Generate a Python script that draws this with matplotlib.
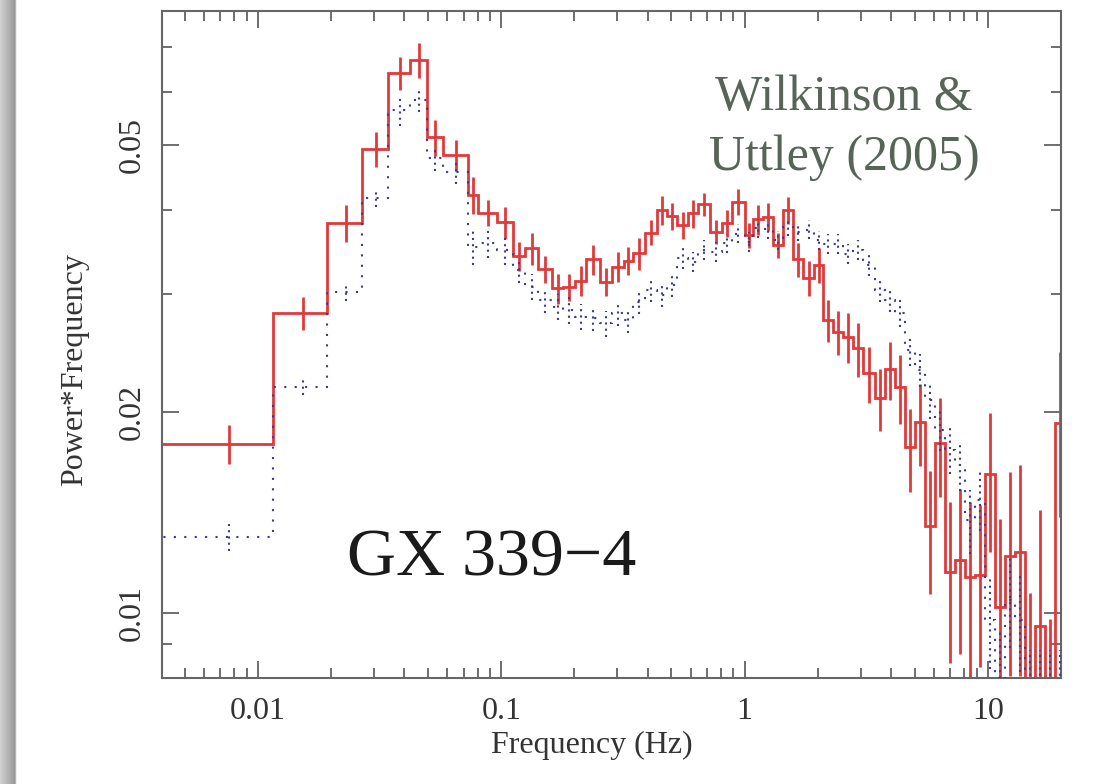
import numpy as np
import matplotlib
matplotlib.use('Agg')
import matplotlib.pyplot as plt
from matplotlib.ticker import LogLocator, NullFormatter

plt.rcParams['font.family'] = ['Liberation Serif', 'DejaVu Serif']

# frequency bin edges (Hz), shared by both power spectra
bin_edges = [0.003712, 0.01149, 0.01922, 0.02669, 0.03431, 0.04215, 0.04938, 0.05744,
             0.07319, 0.08024, 0.09574, 0.1114, 0.1252, 0.1419, 0.1611, 0.1798,
             0.2009, 0.2229, 0.2544, 0.2843, 0.3193, 0.3468, 0.3896, 0.4352,
             0.4785, 0.5258, 0.5870, 0.6451, 0.7210, 0.8052, 0.8850, 1.004,
             1.086, 1.193, 1.312, 1.443, 1.586, 1.743, 1.929, 2.106,
             2.315, 2.545, 2.798, 3.075, 3.436, 3.777, 4.152, 4.564,
             5.017, 5.513, 6.062, 6.663, 7.324, 8.051, 8.851, 9.727,
             10.70, 11.76, 12.93, 14.21, 15.62, 17.17, 18.87, 20.94]

# power*frequency, solid red spectrum
red_pow = [0.01788, 0.02806, 0.03828, 0.04933, 0.06412, 0.06699, 0.05135, 0.04831, 0.04211, 0.03963,
           0.03835, 0.03412, 0.03504, 0.03261, 0.03055, 0.03065, 0.03135, 0.03374, 0.03124, 0.03291,
           0.03358, 0.03445, 0.03702, 0.03999, 0.03917, 0.03798, 0.03954, 0.04082, 0.03710, 0.03821,
           0.04114, 0.03669, 0.03873, 0.03908, 0.03545, 0.03999, 0.03374, 0.03161, 0.03310, 0.02739,
           0.02631, 0.02586, 0.02485, 0.02280, 0.02092, 0.02312, 0.02173, 0.01768, 0.01931, 0.01349,
           0.01793, 0.01153, 0.01200, 0.01133, 0.01140, 0.01613, 0.01022, 0.01216, 0.01235, 0.00760,
           0.00956, 0.00750, 0.01924]
red_err = [0.0012, 0.0016, 0.0024, 0.0030, 0.0036, 0.0040, 0.0032, 0.0026, 0.0027, 0.0018,
           0.0021, 0.0017, 0.0019, 0.0015, 0.0016, 0.0014, 0.0016, 0.0017, 0.0015, 0.0017,
           0.0016, 0.0019, 0.0016, 0.0020, 0.0018, 0.0018, 0.0019, 0.0016, 0.0015, 0.0018,
           0.0018, 0.0016, 0.0020, 0.0019, 0.0015, 0.0019, 0.0020, 0.0019, 0.0020, 0.0020,
           0.0020, 0.0022, 0.0023, 0.0022, 0.0022, 0.0023, 0.0026, 0.0025, 0.0027, 0.0028,
           0.0030, 0.0031, 0.0033, 0.0033, 0.0031, 0.0038, 0.0036, 0.0041, 0.0043, 0.0031,
           0.0047, 0.0023, 0.0053]

# power*frequency, dotted blue spectrum
blue_pow = [0.01298, 0.02178, 0.03020, 0.04164, 0.05641, 0.05838, 0.04777, 0.04563, 0.03524, 0.03566,
            0.03485, 0.03253, 0.03073, 0.02934, 0.02868, 0.02835, 0.02771, 0.02756, 0.02708, 0.02804,
            0.02739, 0.02917, 0.03038, 0.02985, 0.03090, 0.03386, 0.03347, 0.03485, 0.03464, 0.03566,
            0.03689, 0.03584, 0.03755, 0.03742, 0.03607, 0.03776, 0.03710, 0.03740, 0.03607, 0.03560,
            0.03560, 0.03440, 0.03485, 0.03310, 0.03038, 0.02934, 0.02806, 0.02470, 0.02307, 0.02080,
            0.01876, 0.01752, 0.01664, 0.01377, 0.01475, 0.00976, 0.00794, 0.01046, 0.00976, 0.00720,
            0.00720, 0.00720, 0.00720]
blue_err = [0.0006, 0.0006, 0.0009, 0.0012, 0.0030, 0.0024, 0.0020, 0.0019, 0.0021, 0.0017,
            0.0017, 0.0014, 0.0014, 0.0013, 0.0013, 0.0013, 0.0012, 0.0012, 0.0012, 0.0012,
            0.0012, 0.0012, 0.0012, 0.0012, 0.0012, 0.0012, 0.0012, 0.0012, 0.0012, 0.0012,
            0.0012, 0.0012, 0.0012, 0.0012, 0.0012, 0.0012, 0.0012, 0.0012, 0.0012, 0.0012,
            0.0012, 0.0012, 0.0012, 0.0012, 0.0012, 0.0012, 0.0013, 0.0013, 0.0013, 0.0013,
            0.0013, 0.0014, 0.0014, 0.0015, 0.0015, 0.0015, 0.0015, 0.0016, 0.0016, 0.0016,
            0.0016, 0.0016, 0.0016]

red = '#e03a3a'
blue = '#3b3b8f'
ink = '#333333'

edges = np.array(bin_edges)
centres = 0.5 * (edges[:-1] + edges[1:])

fig = plt.figure(figsize=(10.93, 7.84), dpi=100)

# grey shadow strip down the left edge
shade = fig.add_axes([0, 0, 18 / 1093, 1])
strip = np.concatenate([np.linspace(0.82, 0.60, 15), [0.70, 0.93, 1.0]])
shade.imshow(strip[np.newaxis, :], cmap='gray', vmin=0, vmax=1, aspect='auto',
             extent=[0, 1, 0, 1])
shade.axis('off')

ax = fig.add_axes([162 / 1093, 106 / 784, 899 / 1093, 667 / 784])
ax.set_xscale('log')
ax.set_yscale('log')

ax.stairs(red_pow, bin_edges, baseline=None, color=red, lw=2.0, zorder=2)
ax.errorbar(centres, red_pow, yerr=red_err, fmt='none', ecolor=red, elinewidth=2.0, zorder=2)

ax.stairs(blue_pow, bin_edges, baseline=None, color=blue, lw=1.5,
          linestyle=(0, (1, 4)), zorder=3)
eb = ax.errorbar(centres, blue_pow, yerr=blue_err, fmt='none', ecolor=blue,
                 elinewidth=1.5, zorder=3)
eb[2][0].set_linestyle((0, (1, 2)))

ax.set_xlim(0.00403, 20.0)
ax.set_ylim(0.0080, 0.0793)

ax.set_xticks([0.01, 0.1, 1, 10], labels=['0.01', '0.1', '1', '10'])
ax.xaxis.set_minor_locator(LogLocator(base=10, subs=np.arange(2, 10)))
ax.xaxis.set_minor_formatter(NullFormatter())
ax.set_yticks([0.01, 0.02, 0.05], labels=['0.01', '0.02', '0.05'])
ax.set_yticks([0.009, 0.03, 0.04, 0.06, 0.07], minor=True)
ax.yaxis.set_minor_formatter(NullFormatter())
for lab in ax.get_yticklabels():
    lab.set_rotation(90)
    lab.set_va('center')

ax.tick_params(which='both', direction='in', top=True, right=True,
               color='#555555', width=1.2, labelcolor=ink, labelsize=23)
ax.tick_params(which='major', length=12, pad=14)
ax.tick_params(which='minor', length=7)
ax.tick_params(axis='y', pad=11)
for s in ax.spines.values():
    s.set_color('#666666')
    s.set_linewidth(1.5)

ax.set_xlabel('Frequency (Hz)', fontsize=23, color=ink)
ax.xaxis.set_label_coords(0.478, -0.08)
ax.set_ylabel('Power*Frequency', fontsize=23, color=ink)
ax.yaxis.set_label_coords(-0.081, 0.4625)

ax.text(0.2058, 0.1544, 'GX 339\u22124', transform=ax.transAxes, fontsize=49,
        color='#1a1a1a', ha='left', va='baseline')
ax.text(0.7586, 0.8516, 'Wilkinson &', transform=ax.transAxes, fontsize=36,
        color='#586458', ha='center', va='baseline')
ax.text(0.7586, 0.7616, 'Uttley (2005)', transform=ax.transAxes, fontsize=36,
        color='#586458', ha='center', va='baseline')

fig.savefig('out.png', dpi=100)
